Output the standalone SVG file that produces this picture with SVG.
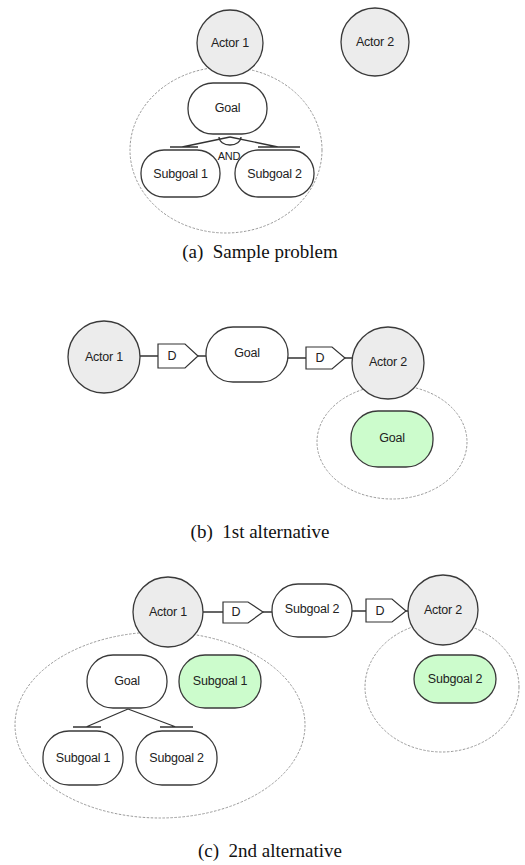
<svg xmlns="http://www.w3.org/2000/svg" width="525" height="865" viewBox="0 0 525 865">
<style>
.bound{fill:none;stroke:#9a9a9a;stroke-width:1;stroke-dasharray:2.5,1.5}
.actor{fill:#ececec;stroke:#3a3a3a;stroke-width:1.3}
.goal{fill:#ffffff;stroke:#3a3a3a;stroke-width:1.3}
.sat{fill:#ccfccc;stroke:#3a3a3a;stroke-width:1.3}
.lbl{font-family:"Liberation Sans",Arial,sans-serif;font-size:12.5px;fill:#222;text-anchor:middle;dominant-baseline:central;letter-spacing:-0.2px}
.ln{stroke:#333;stroke-width:1.3;fill:none}
.dbox{fill:#ffffff;stroke:#333;stroke-width:1.2}
.cap{font-family:"Liberation Serif","Times New Roman",serif;font-size:19px;fill:#111;text-anchor:middle}
</style>
<rect width="525" height="865" fill="#ffffff"/>

<!-- Panel (a) -->
<g id="a-boundary"><ellipse class="bound" cx="226" cy="150" rx="96" ry="83"/></g>
<g id="connectors-a">
  <path class="ln" d="M230 137 L182 147 M170 147 L198 147"/>
  <path class="ln" d="M230 137 L278 147 M258 147 L300 147"/>
  <path class="ln" d="M219 137 A11 8 0 0 0 241 137"/>
</g>
<g id="a-actor1"><circle class="actor" cx="230" cy="43" r="33"/><text class="lbl" x="230" y="43">Actor 1</text></g>
<g id="a-actor2"><circle class="actor" cx="375" cy="42" r="34"/><text class="lbl" x="375" y="42">Actor 2</text></g>
<g id="a-goal"><rect class="goal" x="188" y="83" width="79" height="51" rx="25"/><text class="lbl" x="227.5" y="108">Goal</text></g>
<g id="a-and"><text class="lbl" x="229" y="156" style="font-size:11px">AND</text></g>
<g id="a-sub1"><rect class="goal" x="141" y="150" width="79" height="47" rx="23"/><text class="lbl" x="180.5" y="173.5">Subgoal 1</text></g>
<g id="a-sub2"><rect class="goal" x="235" y="150" width="79" height="47" rx="23"/><text class="lbl" x="274.5" y="173.5">Subgoal 2</text></g>
<text class="cap" x="260" y="258" xml:space="preserve">(a)  Sample problem</text>

<!-- Panel (b) -->
<g id="b-boundary"><ellipse class="bound" cx="392" cy="442" rx="75" ry="57"/></g>
<g id="connectors-b">
  <path class="ln" d="M140 356 L158 356 M198 356 L206 356"/>
  <path class="dbox" d="M158 344 L185 344 L198 356 L185 368 L158 368 Z"/>
  <text class="lbl" x="172" y="356">D</text>
  <path class="ln" d="M288 358 L306 358 M345 358 L353 358"/>
  <path class="dbox" d="M306 347 L332 347 L345 358 L332 369 L306 369 Z"/>
  <text class="lbl" x="320" y="358">D</text>
</g>
<g id="b-actor1"><circle class="actor" cx="104" cy="357" r="36"/><text class="lbl" x="104" y="357">Actor 1</text></g>
<g id="b-goal"><rect class="goal" x="206" y="327" width="82" height="55" rx="27"/><text class="lbl" x="247" y="353">Goal</text></g>
<g id="b-actor2"><circle class="actor" cx="388" cy="363" r="36"/><text class="lbl" x="388" y="362">Actor 2</text></g>
<g id="b-goal2"><rect class="sat" x="351" y="411" width="82" height="56" rx="27"/><text class="lbl" x="392" y="438">Goal</text></g>
<text class="cap" x="260" y="538" xml:space="preserve">(b)  1st alternative</text>

<!-- Panel (c) -->
<g id="c-boundary1"><ellipse class="bound" cx="160" cy="725" rx="145" ry="93"/></g>
<g id="c-boundary2"><ellipse class="bound" cx="442" cy="687" rx="77" ry="65"/></g>
<g id="connectors-c">
  <path class="ln" d="M203 612 L223 612 M263 612 L273 612"/>
  <path class="dbox" d="M223 602 L248 602 L263 612 L248 623 L223 623 Z"/>
  <text class="lbl" x="236" y="612">D</text>
  <path class="ln" d="M352 611 L366 611 M406 611 L409 611"/>
  <path class="dbox" d="M366 599 L392 599 L406 611 L392 622 L366 622 Z"/>
  <text class="lbl" x="380" y="611">D</text>
  <path class="ln" d="M128 709 L86 727 M73 727 L101 727"/>
  <path class="ln" d="M128 709 L176 727 M160 727 L193 727"/>
</g>
<g id="c-actor1"><circle class="actor" cx="168" cy="612" r="35"/><text class="lbl" x="168" y="612">Actor 1</text></g>
<g id="c-sub2top"><rect class="goal" x="272" y="584" width="80" height="53" rx="26"/><text class="lbl" x="312" y="609">Subgoal 2</text></g>
<g id="c-actor2"><circle class="actor" cx="443" cy="610" r="35"/><text class="lbl" x="443" y="610">Actor 2</text></g>
<g id="c-goal"><rect class="goal" x="87" y="655" width="80" height="53" rx="26"/><text class="lbl" x="127" y="681">Goal</text></g>
<g id="c-sub1green"><rect class="sat" x="179" y="655" width="82" height="53" rx="26"/><text class="lbl" x="220" y="681">Subgoal 1</text></g>
<g id="c-sub1"><rect class="goal" x="43" y="731" width="80" height="54" rx="26"/><text class="lbl" x="83" y="758">Subgoal 1</text></g>
<g id="c-sub2"><rect class="goal" x="136" y="731" width="81" height="54" rx="26"/><text class="lbl" x="176.5" y="758">Subgoal 2</text></g>
<g id="c-sub2green"><rect class="sat" x="414" y="655" width="82" height="48" rx="24"/><text class="lbl" x="455" y="679">Subgoal 2</text></g>
<text class="cap" x="270" y="857" xml:space="preserve">(c)  2nd alternative</text>
</svg>
